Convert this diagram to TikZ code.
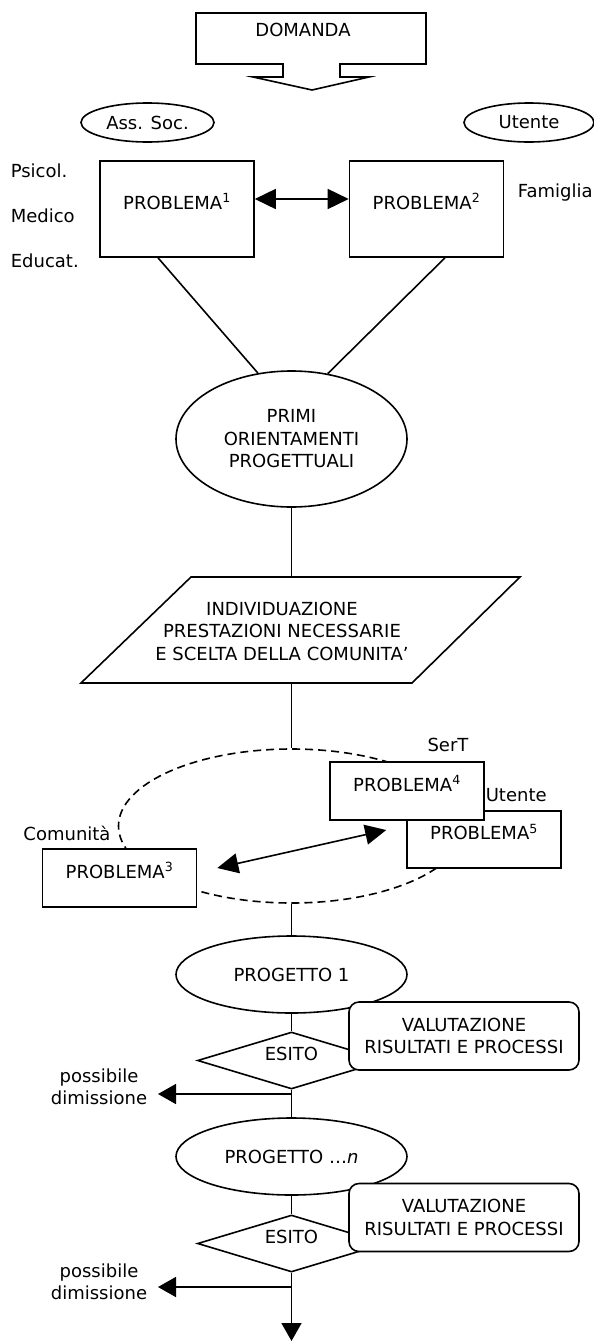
\documentclass[tikz,border=0pt]{standalone}
\usepackage{fontspec}
\setmainfont{DejaVu Sans}
\usepackage{tikz}
\usetikzlibrary{positioning, arrows.meta, shapes.geometric, calc}

\begin{document}
\begin{tikzpicture}[
    x=1pt, y=-1pt, line width=1.6pt,
    every node/.style={font=\fontsize{18pt}{22.5pt}\selectfont, inner sep=0pt, align=center},
    probbox/.style={rectangle, draw=black, fill=white, minimum width=154pt,
                    text height=13pt, text depth=13pt},
    oval/.style={ellipse, draw=black, fill=white, minimum width=231pt, minimum height=77pt},
    smalloval/.style={ellipse, draw=black, fill=white, minimum width=133pt, minimum height=39pt},
    valbox/.style={rectangle, draw=black, fill=white, rounded corners=10pt,
                   minimum width=230pt, minimum height=68pt},
    esitobox/.style={diamond, draw=black, fill=white, aspect=3.3, minimum width=188pt,
                     minimum height=57pt, text height=13pt, text depth=13pt},
    dbl/.style={{Triangle[length=21pt, width=20pt]}-{Triangle[length=21pt, width=20pt]}},
    exitarrow/.style={-{Triangle[length=18pt, width=20pt]}}
]
    \useasboundingbox (0,0) rectangle (594,1341);

    % Domanda
    \draw (196,13) -- (426,13) -- (426,64) -- (340,64) -- (340,77) -- (369,77) -- (312,90)
        -- (253,77) -- (283,77) -- (283,64) -- (196,64) -- cycle;
    \node (domanda) at (303,29.5) {DOMANDA};

    % Referenti
    \node[smalloval] (asssoc) at (147.5,122.5) {Ass. Soc.};
    \node[smalloval, minimum width=130pt] (utente) at (529,122.5) {Utente};
    \node[anchor=west] (psicol) at (10,171) {Psicol.};
    \node[anchor=west] (medico) at (10,216) {Medico};
    \node[anchor=west] (educat) at (10,261) {Educat.};
    \node[anchor=west] (famiglia) at (517,193) {Famiglia};

    % Problemi iniziali
    \node[probbox, minimum height=96pt] (prob1) at (177,209) {PROBLEMA\textsuperscript{1}};
    \node[probbox, minimum height=96pt] (prob2) at (426.5,209) {PROBLEMA\textsuperscript{2}};
    \draw[dbl] ($(prob1.east)+(0,-10)$) -- ($(prob2.west)+(0,-10)$);

    % Primi orientamenti
    \node[oval, minimum height=136pt] (primi) at (291.5,439) {PRIMI\\ORIENTAMENTI\\PROGETTUALI};
    \draw ($(prob1.south)+(-19,0)$) -- (primi.117);
    \draw ($(prob2.south)+(18.5,0)$) -- (primi.61);

    % Individuazione prestazioni
    \draw (81,683) -- (412,683) -- (520,577) -- (191,577) -- cycle;
    \node (individ) at (282,631) {INDIVIDUAZIONE\\PRESTAZIONI NECESSARIE\\E SCELTA DELLA COMUNITA’};
    \coordinate (partop) at (291.5,577);
    \coordinate (parbot) at (291.5,683);
    \draw (primi.south) -- (partop);

    % Comunita
    \node[ellipse, draw=black, dash pattern=on 8pt off 5pt, minimum width=346pt,
          minimum height=154pt] (comm) at (291.5,826) {};
    \draw (parbot) -- (comm.north);
    \node[probbox, minimum height=58pt] (prob3) at (119.5,878) {PROBLEMA\textsuperscript{3}};
    \node[probbox, minimum height=57pt] (prob5) at (484,839.5) {PROBLEMA\textsuperscript{5}};
    \node[probbox, minimum height=58pt] (prob4) at (407,791) {PROBLEMA\textsuperscript{4}};
    \node (sert) at (448,745) {SerT};
    \node[anchor=west] (utente2) at (485,795) {Utente};
    \node (comunita) at (67,833) {Comunità};
    \draw[dbl] ($(prob3.east)+(20,-10)$) -- ($(prob5.west)+(-20,-9.5)$);

    % Progetto 1
    \node[oval] (prog1) at (291.5,974.5) {PROGETTO 1};
    \draw (comm.south) -- (prog1.north);
    \node[esitobox] (esito1) at (291.5,1060.5) {ESITO};
    \draw (prog1.south) -- (esito1.north);
    \node[valbox] (val1) at (464,1036) {VALUTAZIONE\\RISULTATI E PROCESSI};
    \coordinate (exit1) at (158,1094);
    \draw[exitarrow] (esito1.south |- exit1) -- (exit1);
    \node (dimiss1) at (99,1087) {possibile\\dimissione};

    % Progetto n
    \node[oval] (progn) at (291.5,1156.5) {PROGETTO …\textit{n}};
    \draw (esito1.south) -- (progn.north);
    \node[esitobox] (esito2) at (291.5,1243.5) {ESITO};
    \draw (progn.south) -- (esito2.north);
    \node[valbox] (val2) at (464,1217.5) {VALUTAZIONE\\RISULTATI E PROCESSI};
    \coordinate (exit2) at (158,1287);
    \draw[exitarrow] (esito2.south |- exit2) -- (exit2);
    \node (dimiss2) at (99,1282) {possibile\\dimissione};
    \coordinate (fine) at (291.5,1341);
    \draw[exitarrow] (esito2.south) -- (fine);

\end{tikzpicture}
\end{document}
